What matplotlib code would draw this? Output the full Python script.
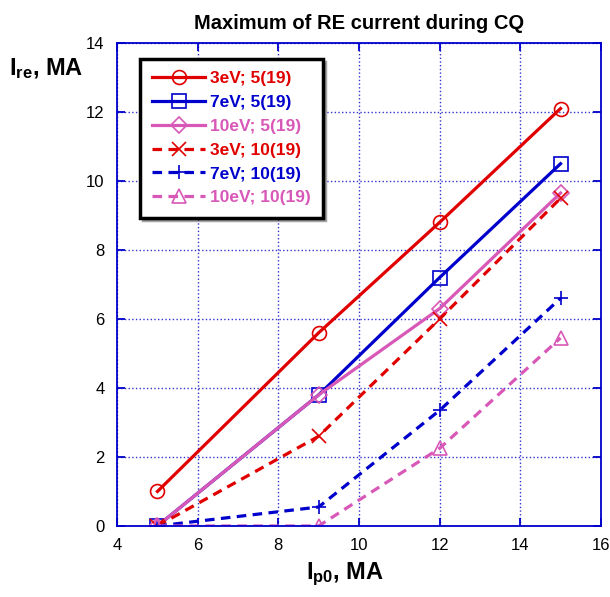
import matplotlib
matplotlib.use("Agg")
import matplotlib.pyplot as plt

plt.rcParams["font.family"] = ["Liberation Sans", "DejaVu Sans"]
plt.rcParams["mathtext.fontset"] = "custom"
plt.rcParams["mathtext.rm"] = "Liberation Sans"
plt.rcParams["mathtext.bf"] = "Liberation Sans:bold"

ip0 = [5, 9, 12, 15]

re_3ev_5 = [1.0, 5.6, 8.8, 12.1]
re_7ev_5 = [0.0, 3.8, 7.2, 10.5]
re_10ev_5 = [0.0, 3.8, 6.3, 9.65]
re_3ev_10 = [0.0, 2.6, 6.0, 9.5]
re_7ev_10 = [0.0, 0.55, 3.35, 6.6]
re_10ev_10 = [0.0, 0.0, 2.25, 5.45]

labels = [
    "3eV; 5(19)",
    "7eV; 5(19)",
    "10eV; 5(19)",
    "3eV; 10(19)",
    "7eV; 10(19)",
    "10eV; 10(19)",
]

RED = "#e00000"
BLUE = "#0000cc"
PINK = "#d858b8"
GRID = "#3333cc"


def main():
    fig = plt.figure(figsize=(6.1, 5.97), dpi=100)
    ax = fig.add_axes([0.192, 0.119, 0.793, 0.809])

    series = [
        (re_3ev_5, RED, "-", "o", labels[0]),
        (re_7ev_5, BLUE, "-", "s", labels[1]),
        (re_10ev_5, PINK, "-", "D", labels[2]),
        (re_3ev_10, RED, "--", "x", labels[3]),
        (re_7ev_10, BLUE, "--", "+", labels[4]),
        (re_10ev_10, PINK, "--", "^", labels[5]),
    ]

    for values, color, ls, marker, label in series:
        ax.plot(
            ip0,
            values,
            color=color,
            linestyle=ls,
            linewidth=2.3,
            dashes=(3, 2) if ls == "--" else (None, None),
            marker=marker,
            markersize=10 if marker != "D" else 8,
            markerfacecolor="none",
            markeredgecolor=color,
            markeredgewidth=1.2,
            label=label,
        )

    ax.set_xlim(4, 16)
    ax.set_ylim(0, 14)
    ax.set_xticks(range(4, 17, 2))
    ax.set_yticks(range(0, 15, 2))

    ax.grid(True, color=GRID, linestyle=":", linewidth=1.0)
    for spine in ax.spines.values():
        spine.set_color(BLUE)
        spine.set_linewidth(1.3)

    ax.tick_params(
        direction="in",
        top=True,
        right=True,
        color=BLUE,
        length=6,
        width=1.3,
        labelsize=12,
        pad=9,
    )

    ax.set_title(
        "Maximum of RE current during CQ",
        fontsize=14.5,
        fontweight="bold",
        pad=10,
    )

    fig.text(
        0.015, 0.875,
        r"$\mathbf{I_{re}}$, MA",
        fontsize=17,
        fontweight="bold",
        ha="left",
        va="baseline",
    )
    fig.text(
        0.565, 0.03,
        r"$\mathbf{I_{p0}}$, MA",
        fontsize=17,
        fontweight="bold",
        ha="center",
        va="baseline",
    )

    leg = ax.legend(
        loc="upper left",
        bbox_to_anchor=(0.03, 0.985),
        prop={"weight": "bold", "size": 12.5},
        labelcolor="linecolor",
        frameon=True,
        fancybox=False,
        shadow=True,
        handlelength=3.0,
        handletextpad=0.3,
        labelspacing=0.5,
        borderpad=0.7,
    )
    leg.get_frame().set_edgecolor("black")
    leg.get_frame().set_linewidth(2.5)

    fig.savefig("out.png", dpi=100)
    plt.close(fig)


if __name__ == "__main__":
    main()
